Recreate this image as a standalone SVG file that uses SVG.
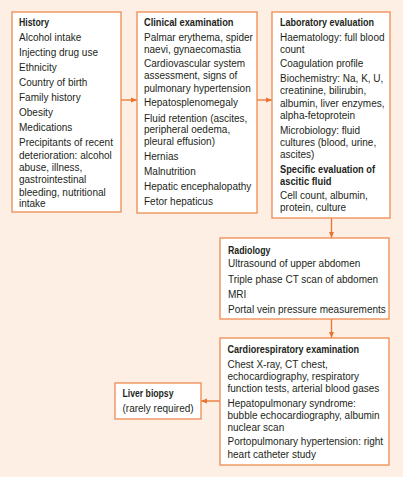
<svg xmlns="http://www.w3.org/2000/svg" width="403" height="477" viewBox="0 0 403 477">
<defs>
<style>
.box{fill:#ffffff;stroke:#f08a50;stroke-width:1.3}
.t{font-family:"Liberation Sans Narrow","Arial Narrow","Liberation Sans",sans-serif;font-size:10px;fill:#231f20}
.b{font-weight:bold}
.c{stroke:#e8742f;stroke-width:1.3;fill:none;marker-end:url(#ah)}
</style>
<marker id="ah" viewBox="0 0 6 6" refX="6" refY="3" markerWidth="6" markerHeight="6" markerUnits="userSpaceOnUse" orient="auto">
<path d="M0,0.5 L6,3 L0,5.5 Z" fill="#e8742f"/>
</marker>
</defs>
<rect width="403" height="477" fill="#fdefe4"/>
<g id="connectors">
<line class="c" x1="121" y1="100" x2="137" y2="100"/>
<line class="c" x1="257" y1="100" x2="272" y2="100"/>
<line class="c" x1="331.5" y1="218" x2="331.5" y2="238"/>
<line class="c" x1="331.5" y1="319" x2="331.5" y2="338"/>
<line class="c" x1="220" y1="401" x2="201" y2="401"/>
</g>
<g id="history">
<rect class="box" x="12" y="12" width="109" height="200"/>
<text class="t b" x="19" y="26" textLength="30" lengthAdjust="spacingAndGlyphs">History</text>
<text class="t" x="19" y="41">Alcohol intake</text>
<text class="t" x="19" y="56">Injecting drug use</text>
<text class="t" x="19" y="71">Ethnicity</text>
<text class="t" x="19" y="86">Country of birth</text>
<text class="t" x="19" y="101">Family history</text>
<text class="t" x="19" y="116">Obesity</text>
<text class="t" x="19" y="131">Medications</text>
<text class="t" x="19" y="146">Precipitants of recent</text>
<text class="t" x="19" y="158.5">deterioration: alcohol</text>
<text class="t" x="19" y="171">abuse, illness,</text>
<text class="t" x="19" y="183">gastrointestinal</text>
<text class="t" x="19" y="195.5">bleeding, nutritional</text>
<text class="t" x="19" y="207">intake</text>
</g>
<g id="clinical">
<rect class="box" x="137" y="12" width="120" height="201"/>
<text class="t b" x="144" y="26" textLength="89.5" lengthAdjust="spacingAndGlyphs">Clinical examination</text>
<text class="t" x="144" y="41">Palmar erythema, spider</text>
<text class="t" x="144" y="53">naevi, gynaecomastia</text>
<text class="t" x="144" y="67">Cardiovascular system</text>
<text class="t" x="144" y="79">assessment, signs of</text>
<text class="t" x="144" y="91.5">pulmonary hypertension</text>
<text class="t" x="144" y="106">Hepatosplenomegaly</text>
<text class="t" x="144" y="121.5">Fluid retention (ascites,</text>
<text class="t" x="144" y="133">peripheral oedema,</text>
<text class="t" x="144" y="145">pleural effusion)</text>
<text class="t" x="144" y="160">Hernias</text>
<text class="t" x="144" y="175">Malnutrition</text>
<text class="t" x="144" y="190">Hepatic encephalopathy</text>
<text class="t" x="144" y="205">Fetor hepaticus</text>
</g>
<g id="laboratory">
<rect class="box" x="272" y="12" width="118" height="206"/>
<text class="t b" x="280" y="26" textLength="94" lengthAdjust="spacingAndGlyphs">Laboratory evaluation</text>
<text class="t" x="280" y="41">Haematology: full blood</text>
<text class="t" x="280" y="53">count</text>
<text class="t" x="280" y="67">Coagulation profile</text>
<text class="t" x="280" y="82">Biochemistry: Na, K, U,</text>
<text class="t" x="280" y="94">creatinine, bilirubin,</text>
<text class="t" x="280" y="107">albumin, liver enzymes,</text>
<text class="t" x="280" y="119">alpha-fetoprotein</text>
<text class="t" x="280" y="133.5">Microbiology: fluid</text>
<text class="t" x="280" y="146">cultures (blood, urine,</text>
<text class="t" x="280" y="158">ascites)</text>
<text class="t b" x="280" y="172.5" textLength="95" lengthAdjust="spacingAndGlyphs">Specific evaluation of</text>
<text class="t b" x="280" y="184.5" textLength="51.5" lengthAdjust="spacingAndGlyphs">ascitic fluid</text>
<text class="t" x="280" y="199">Cell count, albumin,</text>
<text class="t" x="280" y="211">protein, culture</text>
</g>
<g id="radiology">
<rect class="box" x="220" y="238" width="169" height="81"/>
<text class="t b" x="228" y="253.5" textLength="42.5" lengthAdjust="spacingAndGlyphs">Radiology</text>
<text class="t" x="228" y="267">Ultrasound of upper abdomen</text>
<text class="t" x="228" y="283">Triple phase CT scan of abdomen</text>
<text class="t" x="228" y="297.5">MRI</text>
<text class="t" x="228" y="313">Portal vein pressure measurements</text>
</g>
<g id="cardiorespiratory">
<rect class="box" x="220" y="338" width="169" height="127"/>
<text class="t b" x="227.5" y="353" textLength="131.5" lengthAdjust="spacingAndGlyphs">Cardiorespiratory examination</text>
<text class="t" x="227.5" y="368">Chest X-ray, CT chest,</text>
<text class="t" x="227.5" y="379.5">echocardiography, respiratory</text>
<text class="t" x="227.5" y="392">function tests, arterial blood gases</text>
<text class="t" x="227.5" y="407">Hepatopulmonary syndrome:</text>
<text class="t" x="227.5" y="418.5">bubble echocardiography, albumin</text>
<text class="t" x="227.5" y="431">nuclear scan</text>
<text class="t" x="227.5" y="445">Portopulmonary hypertension: right</text>
<text class="t" x="227.5" y="457.5">heart catheter study</text>
</g>
<g id="liver-biopsy">
<rect class="box" x="115" y="383" width="86" height="36"/>
<text class="t b" x="122.5" y="397" textLength="51" lengthAdjust="spacingAndGlyphs">Liver biopsy</text>
<text class="t" x="122.5" y="412">(rarely required)</text>
</g>
</svg>
